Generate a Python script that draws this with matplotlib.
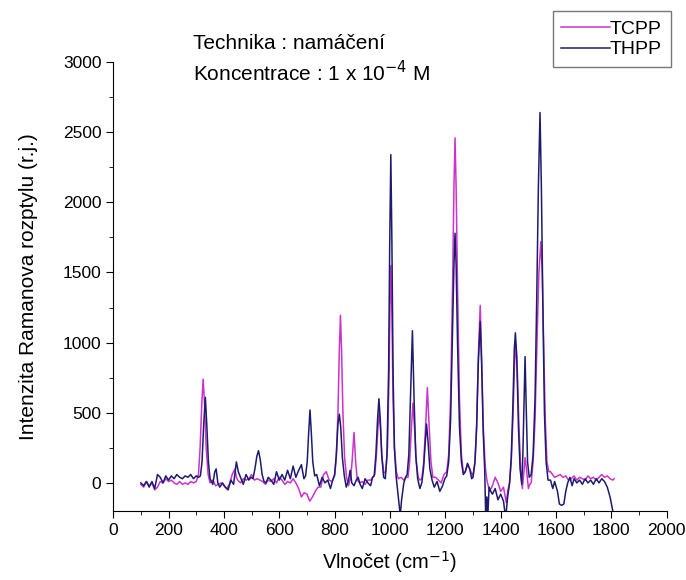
import matplotlib.pyplot as plt
from matplotlib.ticker import MultipleLocator

plt.rcParams['font.family'] = ['Liberation Sans', 'DejaVu Sans']

# TCPP spectrum: (wavenumber cm-1, intensity)
tcpp = [(100, -10), (110, -30), (120, 10), (130, -20), (140, 0), (150, -50), (160, -30), (170, 10), (180, 0),
        (190, 30), (200, 10), (210, 20), (220, 0), (230, -10), (240, 10), (250, -10), (260, 0), (270, -10),
        (280, 10), (290, 0), (300, 10), (308, 60), (314, 250), (320, 560), (325, 740), (330, 560), (336, 250),
        (343, 60), (350, 0), (360, 20), (370, -20), (380, -10), (390, 0), (400, -20), (410, -40), (420, -10),
        (430, 60), (440, 100), (445, 40), (450, 20), (460, 0), (470, 30), (480, 20), (490, 30), (500, 60),
        (510, 20), (520, 30), (530, 20), (540, 10), (550, -10), (560, 20), (570, 10), (580, 30), (590, 0),
        (600, 40), (610, 20), (620, -10), (630, 10), (640, 0), (650, 30), (660, 0), (670, -40), (680, -100),
        (690, -70), (700, -80), (710, -130), (720, -100), (730, -60), (740, -30), (750, -30), (760, 60),
        (770, 80), (780, 20), (790, 10), (800, 50), (806, 180), (812, 500), (817, 950), (821, 1195), (825, 950),
        (830, 500), (836, 180), (843, 40), (850, -20), (858, 40), (863, 150), (870, 360), (876, 150), (882, 20),
        (890, 0), (900, 10), (910, -10), (920, 20), (930, 20), (938, 40), (945, 60), (951, 200), (956, 380),
        (961, 500), (966, 380), (971, 180), (978, 70), (985, 80), (991, 250), (996, 700), (1000, 1250),
        (1003, 1550), (1007, 1200), (1011, 600), (1016, 250), (1023, 80), (1030, 30), (1040, 40), (1050, 20),
        (1058, 40), (1065, 40), (1071, 150), (1077, 380), (1083, 570), (1089, 380), (1095, 150), (1102, 40),
        (1108, 20), (1115, 30), (1122, 150), (1129, 420), (1135, 680), (1141, 420), (1148, 150), (1155, 40),
        (1165, 40), (1175, 20), (1185, 0), (1195, 60), (1205, 80), (1212, 200), (1219, 600), (1226, 1400),
        (1231, 2100), (1235, 2460), (1239, 2100), (1244, 1400), (1251, 600), (1258, 200), (1265, 70),
        (1272, 80), (1280, 130), (1290, 90), (1300, 50), (1307, 150), (1313, 400), (1319, 900), (1326, 1265),
        (1331, 900), (1337, 400), (1344, 120), (1350, 20), (1360, -60), (1370, -20), (1380, 40), (1390, 0),
        (1400, -60), (1410, -30), (1420, -140), (1426, -50), (1432, 0), (1438, 150), (1444, 450), (1450, 850),
        (1455, 985), (1460, 800), (1466, 400), (1472, 100), (1478, -40), (1483, 60), (1488, 180), (1493, 100),
        (1500, -40), (1505, -10), (1510, 0), (1517, 150), (1524, 450), (1531, 1000), (1538, 1500), (1545, 1720),
        (1550, 1500), (1555, 1000), (1561, 450), (1567, 150), (1574, 80), (1580, 80), (1587, 60), (1595, 40),
        (1605, 50), (1615, 60), (1625, 40), (1635, 50), (1645, 20), (1655, 30), (1665, 50), (1675, 20),
        (1685, 40), (1695, 30), (1705, 20), (1715, 50), (1725, 30), (1735, 40), (1745, 20), (1755, 40),
        (1765, 60), (1775, 40), (1785, 50), (1795, 30), (1805, 20), (1810, 30)]

# THPP spectrum: (wavenumber cm-1, intensity)
thpp = [(100, 0), (110, -20), (120, 10), (130, -30), (140, 10), (150, -40), (160, 60), (170, 40), (180, 0),
        (190, 50), (200, 20), (210, 50), (220, 30), (230, 60), (240, 40), (250, 30), (260, 50), (270, 40),
        (280, 60), (290, 30), (300, 50), (308, 40), (315, 50), (321, 150), (327, 420), (333, 610), (338, 420),
        (344, 150), (350, 30), (360, -10), (367, 80), (372, 100), (378, 0), (385, -30), (395, 0), (405, -30),
        (415, -50), (425, 20), (435, -10), (445, 150), (452, 80), (460, 40), (470, -10), (480, 60), (490, 20),
        (498, 40), (505, 30), (512, 100), (519, 190), (525, 230), (531, 170), (538, 60), (545, 10), (552, 0),
        (560, 40), (570, 20), (580, -10), (590, 80), (600, 20), (610, 60), (620, 20), (630, 90), (640, 30),
        (650, 120), (660, 40), (670, 90), (680, 130), (689, 30), (695, 50), (701, 150), (706, 350), (711, 520),
        (716, 350), (721, 150), (728, 50), (735, 60), (745, -20), (755, 40), (765, 0), (775, 20), (785, -40),
        (793, 20), (800, 60), (806, 200), (812, 420), (817, 490), (822, 400), (828, 180), (835, 50), (842, -30),
        (850, 20), (856, 90), (862, 0), (870, -20), (878, 20), (885, 40), (892, -10), (900, -40), (910, 30),
        (920, 0), (930, -20), (937, 40), (943, 50), (949, 200), (955, 450), (960, 600), (965, 450), (970, 200),
        (977, 40), (983, 30), (989, 200), (995, 800), (999, 1700), (1003, 2340), (1007, 1700), (1011, 800),
        (1016, 250), (1022, 50), (1030, -100), (1037, -230), (1042, -120), (1050, 0), (1056, 40), (1062, 60),
        (1068, 200), (1074, 600), (1081, 1085), (1087, 600), (1093, 200), (1100, 30), (1108, -40), (1115, 0),
        (1121, 100), (1127, 280), (1132, 420), (1138, 280), (1144, 100), (1152, 20), (1160, -30), (1170, 10),
        (1180, -60), (1190, -20), (1198, 30), (1205, 50), (1212, 150), (1219, 450), (1226, 1100), (1231, 1550),
        (1235, 1780), (1239, 1550), (1244, 1000), (1251, 400), (1258, 150), (1265, 60), (1272, 80), (1280, 140),
        (1288, 100), (1295, 30), (1300, 40), (1307, 150), (1313, 400), (1319, 850), (1326, 1150), (1331, 850),
        (1337, 350), (1342, 100), (1346, -250), (1350, -100), (1353, -250), (1358, -30), (1364, -60),
        (1370, -80), (1380, -40), (1390, -120), (1400, -80), (1410, -130), (1418, -250), (1425, -100),
        (1432, 0), (1438, 180), (1444, 550), (1449, 950), (1453, 1070), (1458, 900), (1464, 400), (1470, 100),
        (1476, -10), (1480, 200), (1484, 550), (1488, 900), (1492, 550), (1497, 150), (1503, 40), (1510, 60),
        (1517, 200), (1524, 600), (1530, 1300), (1536, 2100), (1542, 2640), (1547, 2100), (1552, 1300),
        (1558, 500), (1564, 150), (1571, 20), (1580, 20), (1588, -40), (1595, 10), (1605, -60), (1612, -150),
        (1620, -160), (1628, -150), (1635, -60), (1642, 0), (1650, 40), (1658, -20), (1665, 30), (1675, 0),
        (1685, 20), (1695, -10), (1705, 30), (1715, 0), (1725, 20), (1735, -10), (1745, 30), (1755, 0),
        (1765, 30), (1775, 10), (1785, -30), (1795, -100), (1805, -200)]

tcpp_x, tcpp_y = zip(*tcpp)
thpp_x, thpp_y = zip(*thpp)

fig = plt.figure(figsize=(6.86, 5.8), dpi=100)
ax = fig.add_axes([0.165, 0.119, 0.807, 0.774])

ax.plot(tcpp_x, tcpp_y, color='#cc33cc', lw=1.1, label='TCPP')
ax.plot(thpp_x, thpp_y, color='#1c1c6e', lw=1.1, label='THPP')

ax.set_xlim(0, 2000)
ax.set_ylim(-200, 3000)
ax.spines['top'].set_visible(False)
ax.spines['right'].set_visible(False)
ax.xaxis.set_major_locator(MultipleLocator(200))
ax.xaxis.set_minor_locator(MultipleLocator(100))
ax.yaxis.set_major_locator(MultipleLocator(500))
ax.yaxis.set_minor_locator(MultipleLocator(250))
ax.tick_params(which='major', direction='out', length=5, labelsize=12.5)
ax.tick_params(which='minor', direction='out', length=3)

ax.set_xlabel('Vlnočet (cm$^{-1}$)', fontsize=14.5)
ax.set_ylabel('Intenzita Ramanova rozptylu (r.j.)', fontsize=15)
ax.xaxis.set_label_coords(0.5, -0.085)
ax.yaxis.set_label_coords(-0.135, 0.5)

fig.text(0.282, 0.925, 'Technika : namáčení', fontsize=15, va='center')
fig.text(0.282, 0.874, 'Koncentrace : 1 x 10$^{-4}$ M', fontsize=15, va='center')

leg = fig.legend(loc='upper right', bbox_to_anchor=(0.992, 0.997), fontsize=14,
                 handlelength=2.5, handletextpad=0.0, borderpad=0.45, labelspacing=0.15,
                 fancybox=False, edgecolor='#777777', framealpha=1)
leg.get_frame().set_linewidth(1.0)

fig.savefig('out.png', dpi=100)
